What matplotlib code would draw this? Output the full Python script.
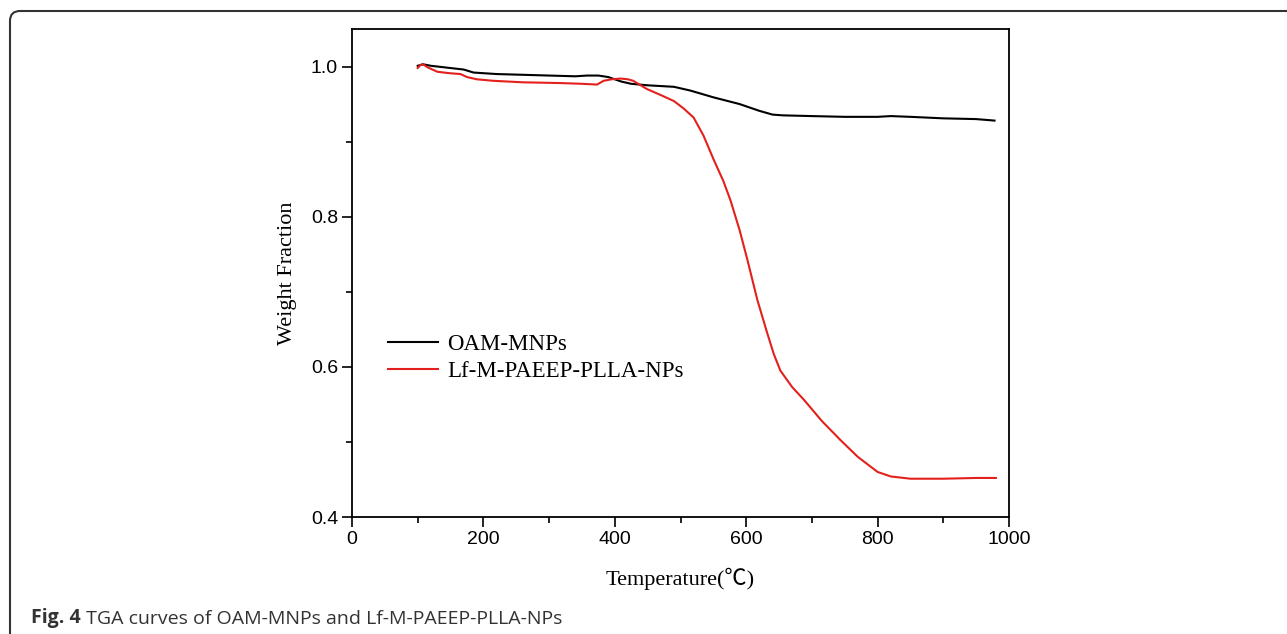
import matplotlib
matplotlib.use('Agg')
import matplotlib.pyplot as plt
from matplotlib.patches import FancyBboxPatch
from matplotlib.ticker import MultipleLocator
from matplotlib.transforms import IdentityTransform

# TGA data
temp_oam = [100, 108, 120, 150, 170, 185, 220, 260, 300, 340, 358, 375, 390, 410,
            425, 450, 490, 515, 550, 590, 620, 640, 655, 700, 750, 800, 820, 850,
            900, 950, 978]
weight_oam = [1.001, 1.003, 1.001, 0.998, 0.996, 0.992, 0.990, 0.989, 0.988, 0.987,
              0.988, 0.988, 0.986, 0.980, 0.977, 0.975, 0.973, 0.968, 0.959, 0.950,
              0.941, 0.936, 0.935, 0.934, 0.933, 0.933, 0.934, 0.933, 0.931, 0.930,
              0.928]

temp_lf = [100, 104, 108, 115, 130, 150, 165, 175, 190, 215, 260, 317, 350, 373, 383,
           395, 409, 420, 428, 449, 470, 490, 505, 520, 535, 551, 565, 576, 590, 602,
           617, 632, 642, 652, 670, 688, 715, 744, 770, 800, 820, 850, 900, 950, 980]
weight_lf = [0.998, 1.002, 1.003, 0.999, 0.993, 0.991, 0.990, 0.986, 0.983, 0.981,
             0.979, 0.978, 0.977, 0.976, 0.981, 0.983, 0.984, 0.983, 0.981, 0.970,
             0.962, 0.954, 0.944, 0.932, 0.908, 0.875, 0.848, 0.822, 0.782, 0.742,
             0.689, 0.645, 0.617, 0.595, 0.573, 0.556, 0.528, 0.502, 0.480, 0.460,
             0.454, 0.451, 0.451, 0.452, 0.452]

labels = ['OAM-MNPs', 'Lf-M-PAEEP-PLLA-NPs']

plt.rcParams['font.family'] = ['Liberation Sans', 'DejaVu Sans']
serif = ['Liberation Serif', 'Noto Sans CJK SC', 'DejaVu Serif']

fig = plt.figure(figsize=(12.87, 6.34), dpi=100)
ax = fig.add_axes([352 / 1287, 1 - 517 / 634, 657 / 1287, 488 / 634])

ax.plot(temp_oam, weight_oam, color='black', linewidth=1.5, label=labels[0])
ax.plot(temp_lf, weight_lf, color='#e3201b', linewidth=1.5, label=labels[1])

ax.set_xlim(0, 1000)
ax.set_ylim(0.4, 1.05)
ax.xaxis.set_major_locator(MultipleLocator(200))
ax.xaxis.set_minor_locator(MultipleLocator(100))
ax.yaxis.set_major_locator(MultipleLocator(0.2))
ax.yaxis.set_minor_locator(MultipleLocator(0.1))
ax.tick_params(which='both', direction='out', top=False, right=False,
               width=1.2, labelsize=14)
ax.tick_params(which='major', length=7, pad=3)
ax.tick_params(which='minor', length=4)
for s in ax.spines.values():
    s.set_linewidth(1.3)

ax.set_xlabel('Temperature(℃)', family=serif, fontsize=16, labelpad=14)
ax.set_ylabel('Weight Fraction', family=serif, fontsize=16, labelpad=10)

ax.legend(loc='upper left', bbox_to_anchor=(36 / 657, 183 / 488), frameon=False,
          borderpad=0, borderaxespad=0, handlelength=2.2, handletextpad=0.4,
          labelspacing=0.25, prop={'family': serif, 'size': 16.5})

# caption panel border (rounded, open to the right and bottom)
border = FancyBboxPatch((10, -60), 1400, 634 - 11 + 60,
                        boxstyle='round,pad=0,rounding_size=10',
                        transform=IdentityTransform(), facecolor='none',
                        edgecolor='#333333', linewidth=1.5)
fig.patches.append(border)

t1 = fig.text(31 / 1287, 1 - 628 / 634, 'Fig. 4', family='Open Sans',
              fontweight='bold', fontsize=14, color='#333333', va='bottom')
ax.annotate(' TGA curves of OAM-MNPs and Lf-M-PAEEP-PLLA-NPs', xy=(1, 0),
            xycoords=t1, ha='left', va='bottom', family='Open Sans',
            fontsize=14, color='#333333', annotation_clip=False)

plt.savefig('out.png', dpi=100)
